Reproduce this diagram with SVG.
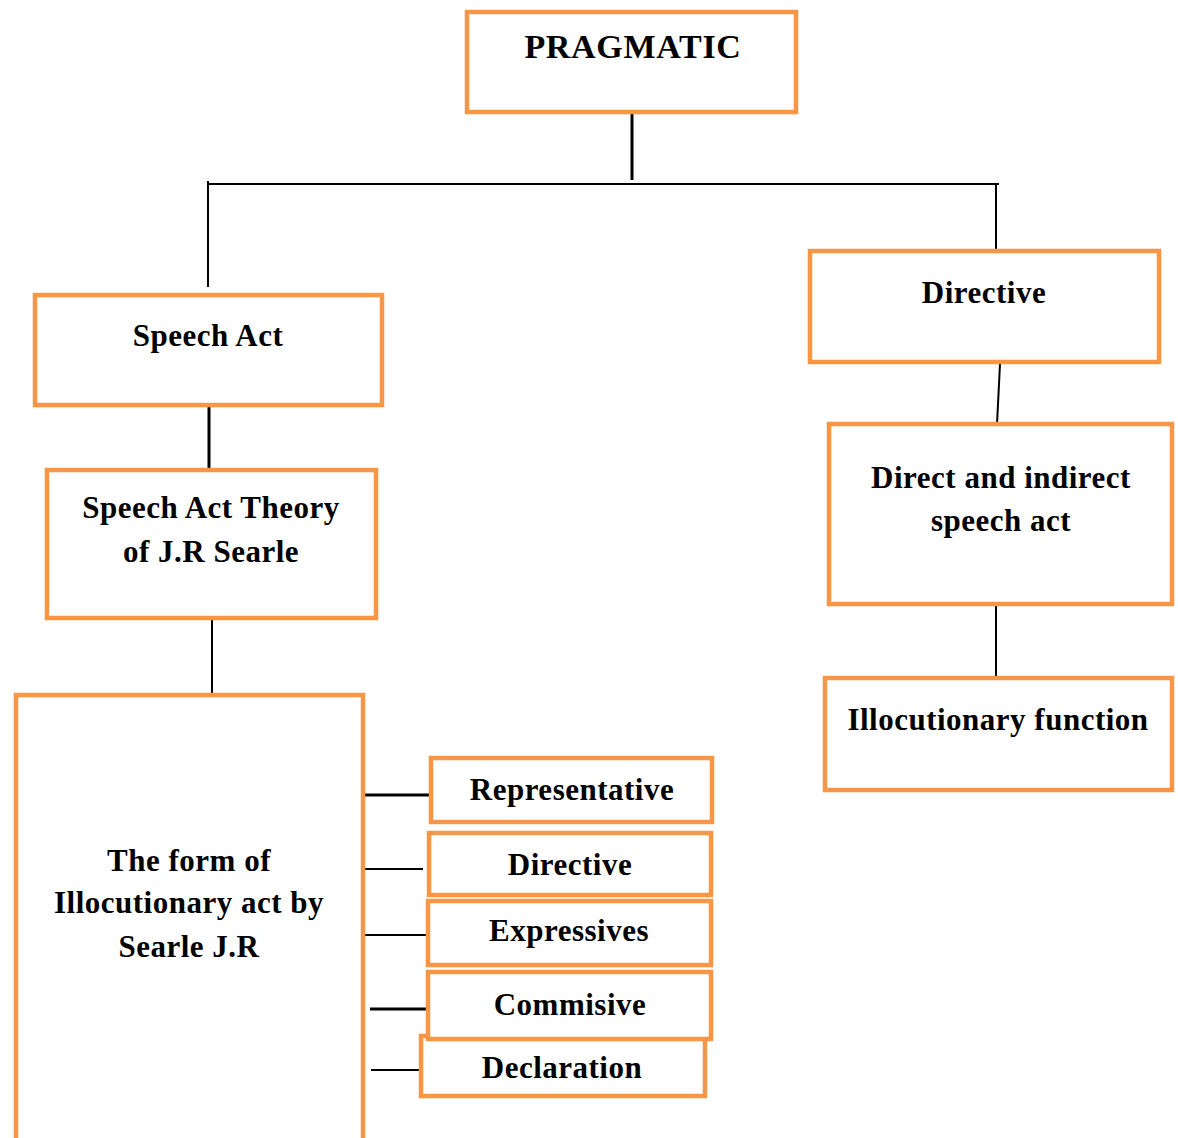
<svg xmlns="http://www.w3.org/2000/svg" width="1178" height="1138" viewBox="0 0 1178 1138">
<style>
.box{fill:#fff;stroke:#F79646;stroke-width:4.5}
.t{font-family:"Liberation Serif","Times New Roman",serif;font-weight:bold;font-size:31px;fill:#000;text-anchor:middle;letter-spacing:0.5px}
.c{stroke:#000;fill:none}
</style>
<rect width="1178" height="1138" fill="#fff"/>
<g id="connectors">
<line class="c" x1="632" y1="112" x2="632" y2="180" stroke-width="3"/>
<line class="c" x1="207" y1="184" x2="999" y2="184" stroke-width="2"/>
<line class="c" x1="208" y1="181" x2="208" y2="287" stroke-width="2"/>
<line class="c" x1="996" y1="184" x2="996" y2="249" stroke-width="2"/>
<line class="c" x1="209" y1="405" x2="209" y2="470" stroke-width="3"/>
<line class="c" x1="212" y1="618" x2="212" y2="694" stroke-width="2"/>
<line class="c" x1="1000" y1="364" x2="997" y2="424" stroke-width="2"/>
<line class="c" x1="996" y1="606" x2="996" y2="678" stroke-width="2"/>
<line class="c" x1="365" y1="795" x2="430" y2="795" stroke-width="3"/>
<line class="c" x1="365" y1="869" x2="423" y2="869" stroke-width="2"/>
<line class="c" x1="365" y1="935" x2="426" y2="935" stroke-width="2"/>
<line class="c" x1="370" y1="1009" x2="426" y2="1009" stroke-width="3"/>
<line class="c" x1="371" y1="1070" x2="420" y2="1070" stroke-width="2"/>
</g>
<g id="pragmatic"><rect class="box" x="467" y="12" width="329" height="100"/><text class="t" x="633" y="58" style="font-size:34px;letter-spacing:0.7px">PRAGMATIC</text></g>
<g id="speech-act"><rect class="box" x="35" y="295" width="347" height="110"/><text class="t" x="208" y="346">Speech Act</text></g>
<g id="theory"><rect class="box" x="47" y="470" width="329" height="148"/><text class="t" x="211" y="518">Speech Act Theory</text><text class="t" x="211" y="562">of J.R Searle</text></g>
<g id="form"><rect class="box" x="16" y="695" width="347" height="470"/><text class="t" x="189" y="871">The form of</text><text class="t" x="189" y="913">Illocutionary act by</text><text class="t" x="189" y="957">Searle J.R</text></g>
<g id="representative"><rect class="box" x="431" y="758" width="281" height="64"/><text class="t" x="572" y="800">Representative</text></g>
<g id="directive-small"><rect class="box" x="429" y="833" width="282" height="62"/><text class="t" x="570" y="875">Directive</text></g>
<g id="expressives"><rect class="box" x="428" y="901" width="283" height="64"/><text class="t" x="569" y="941">Expressives</text></g>
<g id="declaration"><rect class="box" x="421" y="1036" width="284" height="60"/><text class="t" x="562" y="1078">Declaration</text></g>
<g id="commisive"><rect class="box" x="428" y="972" width="283" height="67"/><text class="t" x="570" y="1015">Commisive</text></g>
<g id="directive"><rect class="box" x="810" y="251" width="349" height="111"/><text class="t" x="984" y="303">Directive</text></g>
<g id="direct-indirect"><rect class="box" x="829" y="424" width="343" height="180"/><text class="t" x="1001" y="488">Direct and indirect</text><text class="t" x="1001" y="531">speech act</text></g>
<g id="illocutionary-function"><rect class="box" x="825" y="678" width="347" height="112"/><text class="t" x="998" y="730">Illocutionary function</text></g>
</svg>
